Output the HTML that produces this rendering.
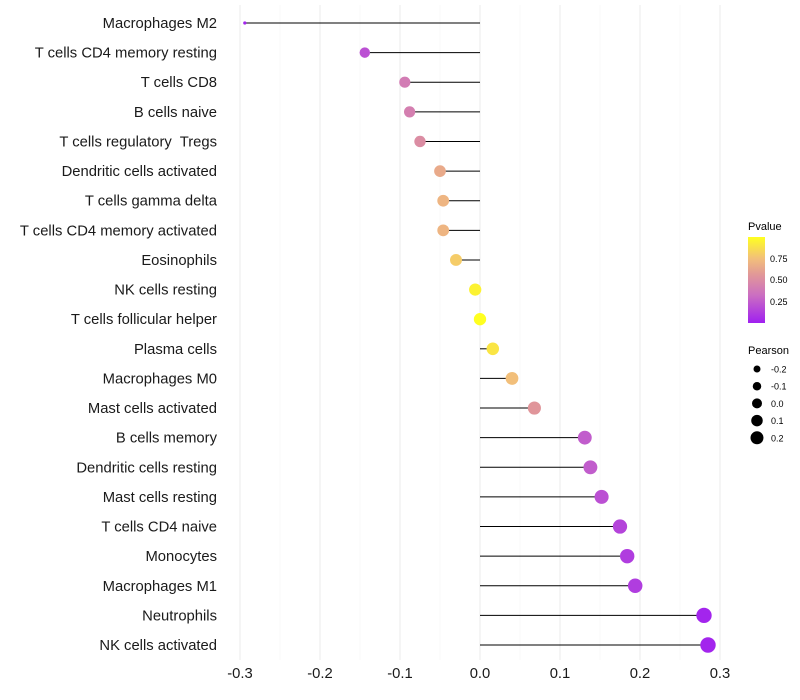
<!DOCTYPE html>
<html><head><meta charset="utf-8"><style>
body{margin:0;background:#fff;font-family:"Liberation Sans",sans-serif}
svg{display:block}
text{white-space:pre}
</style></head><body>
<svg id="chart" width="800" height="700" xmlns="http://www.w3.org/2000/svg">
<defs><linearGradient id="pg" x1="0" y1="1" x2="0" y2="0">
<stop offset="0" stop-color="#a020f0"/><stop offset="0.33" stop-color="#cc70c0"/><stop offset="0.55" stop-color="#e0959a"/><stop offset="0.75" stop-color="#f2bf7a"/><stop offset="1" stop-color="#ffff20"/></linearGradient></defs>
<g id="grid"></g>
<g id="marks"></g>
<g id="ylab"></g>
<g id="xlab"></g>
<g>
<text x="748" y="230" font-size="11">Pvalue</text>
<rect x="748" y="237" width="17" height="86" fill="url(#pg)"/>
<g font-size="9"><text x="770" y="262">0.75</text><text x="770" y="283">0.50</text><text x="770" y="305">0.25</text></g>
</g>
<g id="sleg">
<text x="748" y="354" font-size="11">Pearson</text>
</g>
</svg>
<script>
const categories=["Macrophages M2","T cells CD4 memory resting","T cells CD8","B cells naive","T cells regulatory  Tregs","Dendritic cells activated","T cells gamma delta","T cells CD4 memory activated","Eosinophils","NK cells resting","T cells follicular helper","Plasma cells","Macrophages M0","Mast cells activated","B cells memory","Dendritic cells resting","Mast cells resting","T cells CD4 naive","Monocytes","Macrophages M1","Neutrophils","NK cells activated"];
const pearson=[-0.294,-0.144,-0.094,-0.088,-0.075,-0.05,-0.046,-0.046,-0.03,-0.006,0.0,0.016,0.04,0.068,0.131,0.138,0.152,0.175,0.184,0.194,0.28,0.285];
const pvalues=[0.02,0.2,0.4,0.42,0.5,0.65,0.7,0.7,0.8,0.95,1.0,0.9,0.75,0.55,0.25,0.25,0.2,0.15,0.12,0.12,0.02,0.02];
const xTicks=[-0.3,-0.2,-0.1,0.0,0.1,0.2,0.3];
const xTickLabels=["-0.3","-0.2","-0.1","0.0","0.1","0.2","0.3"];
const sizeLegend=[-0.2,-0.1,0.0,0.1,0.2];
const sizeLegendLabels=["-0.2","-0.1","0.0","0.1","0.2"];
const NS="http://www.w3.org/2000/svg";
const xs=v=>480+v*800;
const ys=i=>23+i*(622/21);
const rs=v=>v<-0.25?1.6:Math.sqrt(Math.max(2,38+75*v));
const stops=[[0,[160,32,240]],[0.33,[204,112,192]],[0.55,[224,149,154]],[0.75,[242,191,122]],[1,[255,255,32]]];
function col(p){for(let k=1;k<stops.length;k++){if(p<=stops[k][0]){const a=stops[k-1],b=stops[k],t=(p-a[0])/(b[0]-a[0]);return "rgb("+a[1].map((c,j)=>Math.round(c+(b[1][j]-c)*t)).join(",")+")";}}return "rgb(255,255,32)";}
function mk(tag,at,parent){const e=document.createElementNS(NS,tag);for(const k in at)e.setAttribute(k,at[k]);document.getElementById(parent).appendChild(e);return e;}
for(let v=-0.3;v<=0.3001;v+=0.05){const major=Math.abs(Math.round(v*20))%2===0;const l=mk("line",{x1:xs(v),x2:xs(v),y1:5,y2:660,stroke:major?"#ebebeb":"#f3f3f3","stroke-width":major?1:0.6},"grid");

}
categories.forEach((c,i)=>{
const y=ys(i);
const ln=mk("line",{x1:xs(0),x2:xs(pearson[i]),y1:y,y2:y,stroke:"#000","stroke-width":1},"marks");


const ci=mk("circle",{cx:xs(pearson[i]),cy:y,r:rs(pearson[i]),fill:col(pvalues[i])},"marks");


const t=mk("text",{x:217,y:y+5,"text-anchor":"end","font-size":14.8,fill:"#1a1a1a"},"ylab");t.textContent=c;


});
xTicks.forEach((v,i)=>{const t=mk("text",{x:xs(v),y:678,"text-anchor":"middle","font-size":14.8,fill:"#1a1a1a"},"xlab");t.textContent=xTickLabels[i];

});
sizeLegend.forEach((v,i)=>{const y=369+i*17.2;
const c=mk("circle",{cx:757,cy:y,r:5+v*7.5,fill:"#000"},"sleg");


const t=mk("text",{x:771,y:y+3.5,"font-size":9},"sleg");t.textContent=sizeLegendLabels[i];

});
</script>
</body></html>
